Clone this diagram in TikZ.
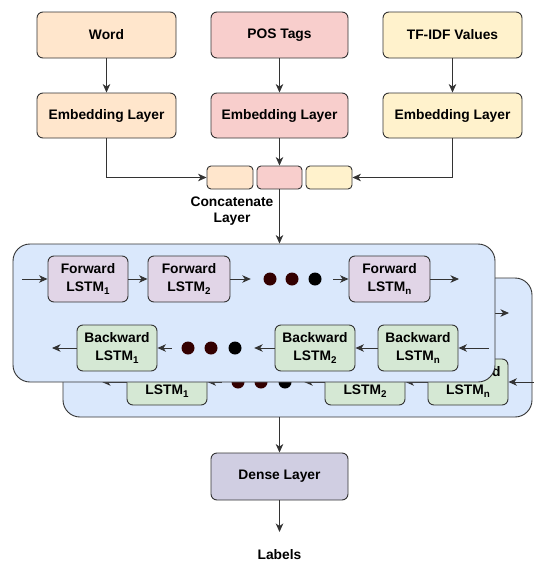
\documentclass[tikz,border=0pt]{standalone}
\usepackage{fontspec}
\setmainfont{Liberation Sans}
\usetikzlibrary{arrows.meta}
\definecolor{cWord}{HTML}{FFE6CC}
\definecolor{cPos}{HTML}{F8CECC}
\definecolor{cTf}{HTML}{FFF2CC}
\definecolor{cFwd}{HTML}{E1D5E7}
\definecolor{cBwd}{HTML}{D5E8D4}
\definecolor{cBlue}{HTML}{DAE8FC}
\definecolor{cDense}{HTML}{D0CEE2}
\definecolor{cStroke}{HTML}{333333}
\definecolor{cLine}{HTML}{333333}
\definecolor{cDot}{HTML}{330000}
\newcommand{\lsub}[1]{\raisebox{-0.45ex}{\fontsize{9.8}{10}\selectfont\bfseries #1}}
\begin{document}
\begin{tikzpicture}[x=1pt,y=-1pt,
  box/.style={draw=cStroke, line width=0.9pt, rounded corners=6pt, align=center,
    font=\fontsize{13.8}{17.5}\selectfont\bfseries, inner sep=0pt},
  lstm/.style={box, minimum width=80pt, minimum height=46pt},
  txt/.style={align=center, font=\fontsize{13.8}{16}\selectfont\bfseries, inner sep=0pt},
  panel/.style={draw=cStroke, line width=0.9pt, rounded corners=17pt, fill=cBlue, inner sep=0pt},
  arr/.style={draw=cLine, line width=0.9pt, -{Stealth[length=8.5pt,width=7.5pt,inset=2.5pt]}},
  dotnode/.style={circle, inner sep=0pt, minimum size=13pt},
]
\useasboundingbox (0,0) rectangle (534,562);

% ---------- inputs ----------
\node[box, fill=cWord, minimum width=139pt, minimum height=46pt] (word) at (106.5,35) {Word};
\node[box, fill=cPos, minimum width=137pt, minimum height=46pt] (pos) at (279.5,35) {POS Tags};
\node[box, fill=cTf, minimum width=139pt, minimum height=46pt] (tf) at (452.5,35) {TF-IDF Values};

\node[box, fill=cWord, minimum width=139pt, minimum height=45pt] (emb1) at (106.5,115.5) {Embedding Layer};
\node[box, fill=cPos, minimum width=137pt, minimum height=45pt] (emb2) at (279.5,115.5) {Embedding Layer};
\node[box, fill=cTf, minimum width=139pt, minimum height=45pt] (emb3) at (452.5,115.5) {Embedding Layer};

\node[box, rounded corners=4pt, fill=cWord, minimum width=46pt, minimum height=23pt] (cl) at (230,177.5) {};
\node[box, rounded corners=4pt, fill=cPos, minimum width=45pt, minimum height=23pt] (cm) at (279.5,177.5) {};
\node[box, rounded corners=4pt, fill=cTf, minimum width=46pt, minimum height=23pt] (cr) at (329,177.5) {};
\node[txt] (concat) at (232,211) {Concatenate\\Layer};

\draw[arr] (word) -- (emb1);
\draw[arr] (pos) -- (emb2);
\draw[arr] (tf) -- (emb3);
\draw[arr] (emb1.south) |- (cl.west);
\draw[arr] (emb2) -- (cm);
\draw[arr] (emb3.south) |- (cr.east);

% ---------- back panel ----------
\node[panel, minimum width=469pt, minimum height=139pt] (back) at (297.5,347.5) {};
\node[lstm, fill=cBwd] (bb1) at (167,382) {Backward\\LSTM\lsub{1}};
\node[lstm, fill=cBwd] (bb2) at (365,382) {Backward\\LSTM\lsub{2}};
\node[lstm, fill=cBwd] (bbn) at (468,382) {Backward\\LSTM\lsub{n}};
\node[dotnode, fill=cDot] (bd1) at (238,382) {};
\node[dotnode, fill=cDot] (bd2) at (261,382) {};
\node[dotnode, fill=black] (bd3) at (285,382) {};
\coordinate (bin) at (534,382);
\coordinate (bout) at (102,382);
\coordinate (bfs) at (480,313);
\coordinate (bfe) at (509,313);
\draw[arr] (bin) -- (bbn.east);
\draw[arr] (bbn.west) -- (bb2.east);
\draw[arr, shorten >=12.5pt] (bb2.west) -- (bd3.east);
\draw[arr, shorten <=9.5pt] (bd1.west) -- (bb1.east);
\draw[arr] (bb1.west) -- (bout);
\draw[arr] (bfs) -- (bfe);

% ---------- front panel ----------
\node[panel, minimum width=482pt, minimum height=138pt] (front) at (254,313) {};
\node[lstm, fill=cFwd] (f1) at (88,279) {Forward\\LSTM\lsub{1}};
\node[lstm, fill=cFwd, minimum width=82pt] (f2) at (189,279) {Forward\\LSTM\lsub{2}};
\node[lstm, fill=cFwd, minimum width=81pt] (fn) at (389.5,279) {Forward\\LSTM\lsub{n}};
\node[dotnode, fill=cDot] (fd1) at (270,279) {};
\node[dotnode, fill=cDot] (fd2) at (292,279) {};
\node[dotnode, fill=black] (fd3) at (315,279) {};
\coordinate (fin) at (22,279);
\coordinate (fout) at (459,279);
\draw[arr] (fin) -- (f1.west);
\draw[arr] (f1.east) -- (f2.west);
\draw[arr, shorten >=12.5pt] (f2.east) -- (fd1.west);
\draw[arr, shorten <=11.5pt] (fd3.east) -- (fn.west);
\draw[arr] (fn.east) -- (fout);

\node[lstm, fill=cBwd] (b1) at (117,348) {Backward\\LSTM\lsub{1}};
\node[lstm, fill=cBwd] (b2) at (315,348) {Backward\\LSTM\lsub{2}};
\node[lstm, fill=cBwd] (bn) at (418,348) {Backward\\LSTM\lsub{n}};
\node[dotnode, fill=cDot] (d1) at (188,348) {};
\node[dotnode, fill=cDot] (d2) at (211,348) {};
\node[dotnode, fill=black] (d3) at (235,348) {};
\coordinate (bfin) at (489,348);
\coordinate (bfout) at (52,348);
\draw[arr] (bfin) -- (bn.east);
\draw[arr] (bn.west) -- (b2.east);
\draw[arr, shorten >=12.5pt] (b2.west) -- (d3.east);
\draw[arr, shorten <=9.5pt] (d1.west) -- (b1.east);
\draw[arr] (b1.west) -- (bfout);

\draw[arr] (cm.south) -- (cm.south |- front.north);

% ---------- output ----------
\node[box, fill=cDense, minimum width=137pt, minimum height=47pt] (dense) at (279.5,476.5) {Dense Layer};
\node[txt, anchor=base] (labels) at (279.5,559) {Labels};
\coordinate (labtop) at (279.5,532);
\draw[arr] (dense.north |- back.south) -- (dense.north);
\draw[arr] (dense.south) -- (labtop);
\end{tikzpicture}
\end{document}
